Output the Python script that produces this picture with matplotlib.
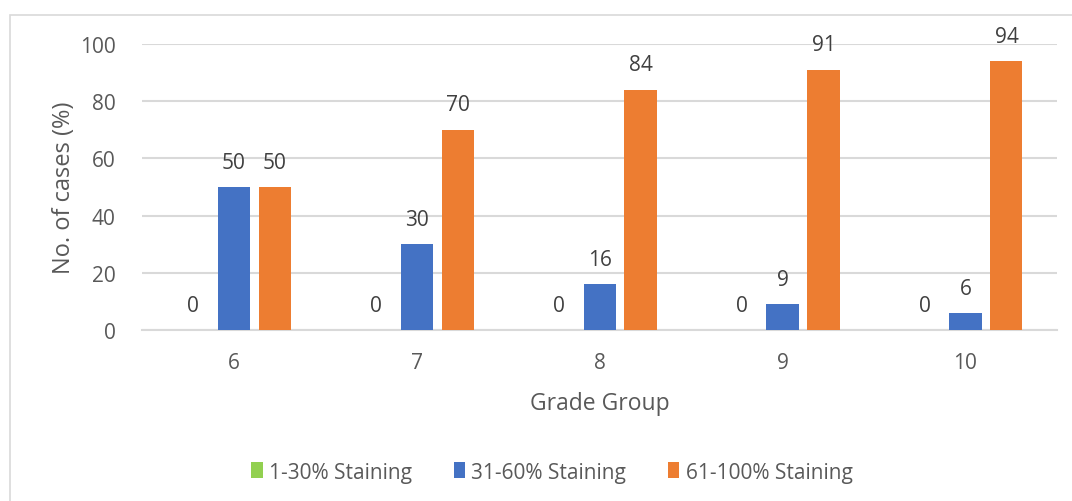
import numpy as np
import matplotlib
matplotlib.use("Agg")
import matplotlib.pyplot as plt
from matplotlib.patches import Rectangle

# ---- data -------------------------------------------------------------------
groups = ["6", "7", "8", "9", "10"]
series = ["1-30% Staining", "31-60% Staining", "61-100% Staining"]
low = [0, 0, 0, 0, 0]
mid = [50, 30, 16, 9, 6]
high = [50, 70, 84, 91, 94]
colors = ["#92d050", "#4472c4", "#ed7d31"]

plt.rcParams["font.family"] = ["Open Sans", "DejaVu Sans"]
TXT = "#595959"

fig = plt.figure(figsize=(10.72, 5.02), dpi=100)
ax = fig.add_axes([0.1325, 0.3406, 0.8535, 0.5698])

# chart-area border
fig.add_artist(Rectangle((10 / 1072, -0.01), 1.0, 1 - 16 / 502 + 0.01,
                         transform=fig.transFigure, fill=False,
                         edgecolor="#d9d9d9", lw=1.2))

x = np.arange(len(groups))
w, off = 0.175, 0.224
for i, (vals, c, lab) in enumerate(zip([low, mid, high], colors, series)):
    xs = x + (i - 1) * off
    ax.bar(xs, vals, width=w, color=c, label=lab, zorder=3)
    for xi, v in zip(xs, vals):
        ax.text(xi, v + 5.0, str(v), ha="center", va="bottom",
                fontsize=15, color="#404040")

ax.set_xlim(-0.5, len(groups) - 0.5)
ax.set_ylim(0, 100)
ax.set_yticks(range(0, 101, 20))
ax.set_xticks(x)
ax.set_xticklabels(groups)
ax.grid(axis="y", color="#d9d9d9", lw=1.5, zorder=0)
for s in ["top", "right", "left"]:
    ax.spines[s].set_visible(False)
ax.spines["bottom"].set_color("#d9d9d9")
ax.spines["bottom"].set_linewidth(1.5)
ax.tick_params(length=0, labelsize=15, labelcolor=TXT)
ax.tick_params(axis="y", pad=19)
ax.tick_params(axis="x", pad=16)

ax.set_xlabel("Grade Group", fontsize=16.5, color=TXT, labelpad=13)
ax.set_ylabel("No. of cases (%)", fontsize=17, color=TXT, labelpad=3)

ax.legend(loc="center", bbox_to_anchor=(0.448, -0.497), ncol=3, frameon=False,
          fontsize=15, labelcolor=TXT, handlelength=0.55, handleheight=0.8,
          handletextpad=0.3, columnspacing=2.0)

fig.savefig("out.png", dpi=100, facecolor="white")
